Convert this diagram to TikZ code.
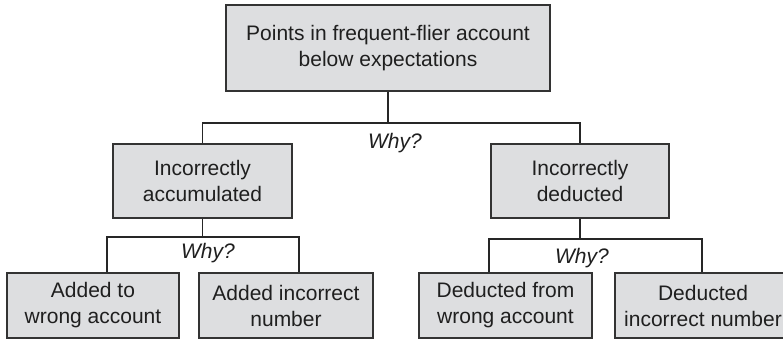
\documentclass[tikz,border=0pt]{standalone}
\usepackage{fontspec}
\setmainfont{Liberation Sans}
\begin{document}
\begin{tikzpicture}[x=1pt,y=-1pt,
  every node/.style={font=\fontsize{21}{26}\selectfont, text=black!88},
  cause/.style={draw=black!80, line width=1.3pt, fill=boxgray, align=center,
    inner sep=0pt, anchor=center},
  link/.style={draw=black!85, line width=1.1pt},
  why/.style={font=\fontsize{21}{26}\selectfont\itshape, anchor=base}]
\definecolor{boxgray}{RGB}{221,222,224}
\useasboundingbox (0,0) rectangle (783,340);

% problem and first-level causes
\node[cause, minimum width=324pt, minimum height=86pt] (top) at (388,48)
  {Points in frequent-flier account\\below expectations};
\node[cause, minimum width=179pt, minimum height=74pt] (lm) at (202.5,181)
  {Incorrectly\\accumulated};
\node[cause, minimum width=178pt, minimum height=74pt] (rm) at (580,181)
  {Incorrectly\\deducted};

% second-level causes
\node[cause, minimum width=172pt, minimum height=65pt] (b1) at (93,305.5)
  {Added to\\wrong account};
\node[cause, minimum width=174pt, minimum height=65pt] (b2) at (286,305.5)
  {Added incorrect\\number};
\node[cause, minimum width=173pt, minimum height=65pt] (b3) at (505.5,305.5)
  {Deducted from\\wrong account};
\node[cause, minimum width=176pt, minimum height=65pt] (b4) at (703,305.5)
  {Deducted\\incorrect number};

% junctions of the tree
\coordinate (j0) at (388,123);
\coordinate (l1) at (107,237);
\coordinate (l2) at (299,237);
\coordinate (r1) at (489,239);
\coordinate (r2) at (702,239);

\draw[link] (top.south) -- (j0);
\draw[link] (lm.north) |- (j0) -| (rm.north);
\draw[link] (lm.south) -- (lm.south |- l1);
\draw[link] (l1 |- b1.north) -- (l1) -- (l2) -- (l2 |- b2.north);
\draw[link] (rm.south) -- (rm.south |- r1);
\draw[link] (r1 |- b3.north) -- (r1) -- (r2) -- (r2 |- b4.north);

% question labels
\node[why] (w0) at (395,148) {Why?};
\node[why] (w1) at (208,258) {Why?};
\node[why] (w2) at (582,263) {Why?};
\end{tikzpicture}
\end{document}
